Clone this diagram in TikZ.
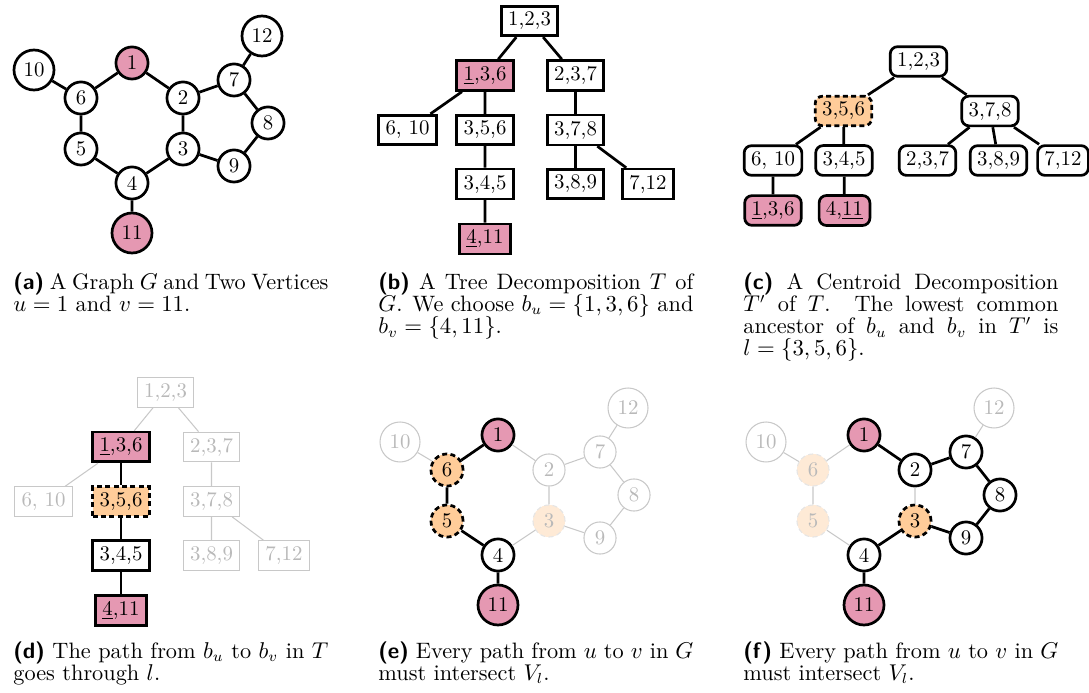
\documentclass[tikz,border=0pt]{standalone}
\definecolor{upink}{RGB}{229,152,178}
\definecolor{lorange}{RGB}{255,204,153}
\definecolor{forange}{RGB}{254,234,214}
\definecolor{lgray}{RGB}{200,200,200}
\definecolor{tgray}{RGB}{185,185,185}
\newcommand{\sublab}[1]{{\sffamily\bfseries(#1)}}
\newcommand{\capw}{151.2pt}
\begin{document}
\begin{tikzpicture}[x=0.48pt,y=-0.48pt,
  vtx/.style={circle, draw=black, line width=1.3pt, fill=white, minimum size=15.4pt, inner sep=0pt},
  vtxb/.style={vtx, minimum size=19.2pt},
  vpink/.style={fill=upink},
  vhl/.style={fill=lorange, dash pattern=on 2.4pt off 1.6pt},
  vgray/.style={draw=lgray, line width=0.5pt, text=tgray},
  vfade/.style={fill=forange, draw=black!10, line width=0.5pt, dash pattern=on 2.4pt off 1.6pt, text=tgray},
  ebk/.style={line width=1.3pt},
  egr/.style={draw=lgray, line width=0.5pt},
  tbox/.style={rectangle, draw=black, line width=1.3pt, fill=white, inner xsep=3.3pt, inner ysep=2.8pt},
  tcbox/.style={tbox, rounded corners=3.5pt},
  tgr/.style={draw=lgray, line width=0.5pt, text=tgray},
  captxt/.style={anchor=base west, inner sep=0pt, font=\fontsize{10.7}{12.8}\selectfont}
]
\useasboundingbox (0,0) rectangle (1089,693);

% ---------- (a) graph ----------
\node[vtx, vpink] (a1) at (132,63) {1};
\node[vtx] (a2) at (183,98) {2};
\node[vtx] (a3) at (183,149) {3};
\node[vtx] (a4) at (132,183) {4};
\node[vtx] (a5) at (81,149) {5};
\node[vtx] (a6) at (81,98) {6};
\node[vtx] (a7) at (234,80) {7};
\node[vtx] (a8) at (268,123) {8};
\node[vtx] (a9) at (234,166) {9};
\node[vtxb] (a10) at (34,70) {10};
\node[vtxb, vpink] (a11) at (132,233) {11};
\node[vtxb] (a12) at (262,36) {12};
\draw[ebk] (a10)--(a6) (a6)--(a1) (a1)--(a2) (a6)--(a5) (a5)--(a4) (a4)--(a3) (a3)--(a2)
  (a2)--(a7) (a7)--(a12) (a7)--(a8) (a8)--(a9) (a9)--(a3) (a4)--(a11);

% ---------- (b) tree decomposition ----------
\node[tbox] (b123) at (529.5,21) {1,2,3};
\node[tbox, fill=upink] (b136) at (485,75.5) {\underline{1},3,6};
\node[tbox] (b237) at (575.5,75.5) {2,3,7};
\node[tbox] (b610) at (407.5,130) {6, 10};
\node[tbox] (b356) at (485,130) {3,5,6};
\node[tbox] (b378) at (575.5,130) {3,7,8};
\node[tbox] (b345) at (485,184) {3,4,5};
\node[tbox] (b389) at (575.5,184) {3,8,9};
\node[tbox] (b712) at (648,184) {7,12};
\node[tbox, fill=upink] (b411) at (485,239) {\underline{4},11};
\draw[ebk] (b123)--(b136) (b123)--(b237) (b136)--(b610) (b136)--(b356) (b356)--(b345)
  (b345)--(b411) (b237)--(b378) (b378)--(b389) (b378)--(b712);

% ---------- (c) centroid decomposition ----------
\node[tcbox] (c123) at (918.5,61.5) {1,2,3};
\node[tcbox, vhl] (c356) at (843.5,111) {3,5,6};
\node[tcbox] (c378) at (990,111) {3,7,8};
\node[tcbox] (c610) at (773,160.5) {6, 10};
\node[tcbox] (c345) at (844,160.5) {3,4,5};
\node[tcbox] (c237) at (927.5,160.5) {2,3,7};
\node[tcbox] (c389) at (998.5,160.5) {3,8,9};
\node[tcbox] (c712) at (1063,160.5) {7,12};
\node[tcbox, fill=upink] (c136) at (773,210.5) {\underline{1},3,6};
\node[tcbox, fill=upink] (c411) at (844.5,210.5) {4,\underline{11}};
\draw[ebk] (c123)--(c356) (c123)--(c378) (c356)--(c610) (c356)--(c345) (c610)--(c136)
  (c345)--(c411) (c378)--(c237) (c378)--(c389) (c378)--(c712);

% ---------- (d) path in T ----------
\begin{scope}[shift={(-364,371.5)}]
\node[tbox, tgr] (d123) at (529.5,21) {1,2,3};
\node[tbox, fill=upink] (d136) at (485,75.5) {\underline{1},3,6};
\node[tbox, tgr] (d237) at (575.5,75.5) {2,3,7};
\node[tbox, tgr] (d610) at (407.5,130) {6, 10};
\node[tbox, vhl] (d356) at (485,130) {3,5,6};
\node[tbox, tgr] (d378) at (575.5,130) {3,7,8};
\node[tbox] (d345) at (485,184) {3,4,5};
\node[tbox, tgr] (d389) at (575.5,184) {3,8,9};
\node[tbox, tgr] (d712) at (648,184) {7,12};
\node[tbox, fill=upink] (d411) at (485,239) {\underline{4},11};
\draw[egr] (d123)--(d136) (d123)--(d237) (d136)--(d610) (d237)--(d378) (d378)--(d389) (d378)--(d712);
\draw[ebk] (d136)--(d356) (d356)--(d345) (d345)--(d411);
\end{scope}

% ---------- (e) graph ----------
\begin{scope}[shift={(366,372)}]
\node[vtx, vpink] (e1) at (132,63) {1};
\node[vtx, vgray] (e2) at (183,98) {2};
\node[vtx, vfade] (e3) at (183,149) {3};
\node[vtx] (e4) at (132,183) {4};
\node[vtx, vhl] (e5) at (81,149) {5};
\node[vtx, vhl] (e6) at (81,98) {6};
\node[vtx, vgray] (e7) at (234,80) {7};
\node[vtx, vgray] (e8) at (268,123) {8};
\node[vtx, vgray] (e9) at (234,166) {9};
\node[vtxb, vgray] (e10) at (34,70) {10};
\node[vtxb, vpink] (e11) at (132,233) {11};
\node[vtxb, vgray] (e12) at (262,36) {12};
\draw[egr] (e10)--(e6) (e1)--(e2) (e4)--(e3) (e3)--(e2) (e2)--(e7) (e7)--(e12) (e7)--(e8) (e8)--(e9) (e9)--(e3);
\draw[ebk] (e6)--(e1) (e6)--(e5) (e5)--(e4) (e4)--(e11);
\end{scope}

% ---------- (f) graph ----------
\begin{scope}[shift={(732,372)}]
\node[vtx, vpink] (f1) at (132,63) {1};
\node[vtx] (f2) at (183,98) {2};
\node[vtx, vhl] (f3) at (183,149) {3};
\node[vtx] (f4) at (132,183) {4};
\node[vtx, vfade] (f5) at (81,149) {5};
\node[vtx, vfade] (f6) at (81,98) {6};
\node[vtx] (f7) at (234,80) {7};
\node[vtx] (f8) at (268,123) {8};
\node[vtx] (f9) at (234,166) {9};
\node[vtxb, vgray] (f10) at (34,70) {10};
\node[vtxb, vpink] (f11) at (132,233) {11};
\node[vtxb, vgray] (f12) at (262,36) {12};
\draw[egr] (f10)--(f6) (f6)--(f1) (f6)--(f5) (f5)--(f4) (f3)--(f2) (f7)--(f12);
\draw[ebk] (f1)--(f2) (f2)--(f7) (f7)--(f8) (f8)--(f9) (f9)--(f3) (f3)--(f4) (f4)--(f11);
\end{scope}

% ---------- captions ----------
\node[captxt] (capa1) at (13,289.3) {\hbox to \capw{\sublab{a} A Graph $G$ and Two Vertices}};
\node[captxt] (capa2) at (13,311.5) {$u = 1$ and $v = 11$.};
\node[captxt] (capb1) at (378,289.3) {\hbox to \capw{\sublab{b} A Tree Decomposition $T$ of}};
\node[captxt] (capb2) at (378,311.5) {\hbox to \capw{$G$. We choose $b_u = \{1,3,6\}$ and}};
\node[captxt] (capb3) at (378,333.8) {$b_v = \{4,11\}$.};
\node[captxt] (capc1) at (743,289.3) {\hbox to \capw{\sublab{c} A Centroid Decomposition}};
\node[captxt] (capc2) at (743,311.5) {\hbox to \capw{$T'$ of $T$. The lowest common}};
\node[captxt] (capc3) at (743,333.8) {\hbox to \capw{ancestor of $b_u$ and $b_v$ in $T'$ is}};
\node[captxt] (capc4) at (743,356) {$l = \{3,5,6\}$.};
\node[captxt] (capd1) at (13,658) {\hbox to \capw{\sublab{d} The path from $b_u$ to $b_v$ in $T$}};
\node[captxt] (capd2) at (13,680) {goes through $l$.};
\node[captxt] (cape1) at (378,658) {\hbox to \capw{\sublab{e} Every path from $u$ to $v$ in $G$}};
\node[captxt] (cape2) at (378,680) {must intersect $V_l$.};
\node[captxt] (capf1) at (743,658) {\hbox to \capw{\sublab{f} Every path from $u$ to $v$ in $G$}};
\node[captxt] (capf2) at (743,680) {must intersect $V_l$.};
\end{tikzpicture}
\end{document}
